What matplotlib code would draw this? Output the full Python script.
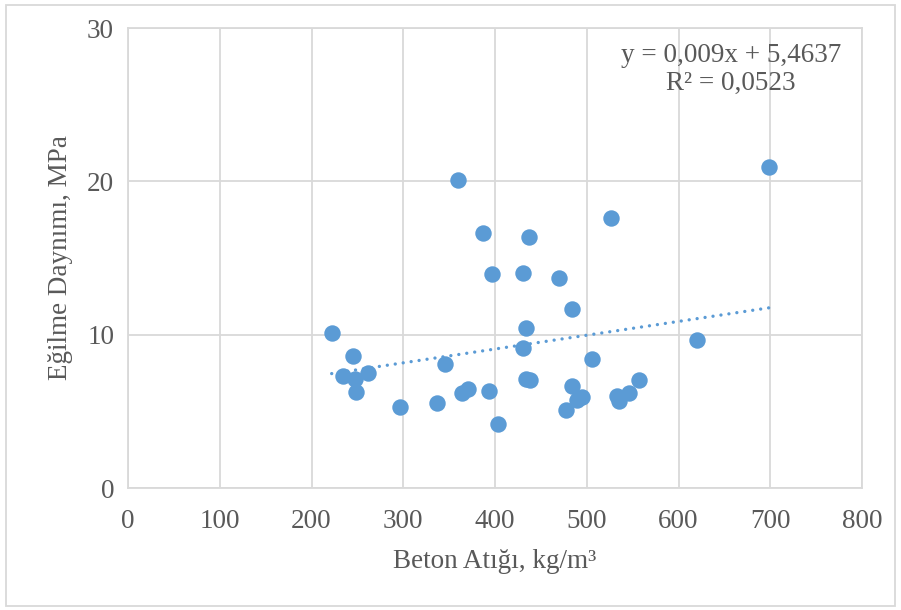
import matplotlib.pyplot as plt
import numpy as np
from matplotlib.patches import Rectangle

# Beton atigi (kg/m3) vs egilme dayanimi (MPa)
beton = [222, 245, 234, 247.5, 262, 249, 297, 345, 337, 359.5, 364.5, 371,
         387, 396.5, 393, 403, 437.5, 430, 434, 430, 434, 438.5, 470, 484,
         484, 477.5, 489, 494.5, 505.5, 526, 533.5, 535.5, 546, 557, 620, 699]
egilme = [10.13, 8.63, 7.33, 7.11, 7.5, 6.26, 5.28, 8.09, 5.54, 20.09, 6.2, 6.46,
          16.61, 13.98, 6.3, 4.15, 16.35, 14.04, 10.41, 9.13, 7.13, 7.02, 13.67, 11.7,
          6.65, 5.11, 5.76, 5.94, 8.41, 17.6, 5.98, 5.65, 6.17, 7.02, 9.63, 20.94]

slope = 0.009
intercept = 5.4637
r2 = 0.0523

xticks = [0, 100, 200, 300, 400, 500, 600, 700, 800]
yticks = [0, 10, 20, 30]

blue = '#5B9BD5'
grid_c = '#D9D9D9'
text_c = '#595959'
fs = 19.5

plt.rcParams['font.family'] = ['Liberation Serif', 'DejaVu Serif']

fig = plt.figure(figsize=(9.01, 6.10), dpi=100)
ax = fig.add_axes([128 / 901, 1 - 488 / 610, (862 - 128) / 901, (488 - 28) / 610])

ax.scatter(beton, egilme, s=140, color=blue, zorder=3, linewidths=0)

xs = np.array([min(beton), max(beton)])
ax.plot(xs, slope * xs + intercept, color=blue, linestyle=(0, (0.01, 2.4)),
        linewidth=2.4, dash_capstyle='round', solid_capstyle='round', zorder=2)

ax.set_xlim(0, 800)
ax.set_ylim(0, 30)
ax.set_xticks(xticks)
ax.set_yticks(yticks)
ax.grid(True, color=grid_c, linewidth=1.3, zorder=0)
ax.set_axisbelow(True)
for s in ax.spines.values():
    s.set_color(grid_c)
    s.set_linewidth(1.3)
ax.tick_params(length=0, labelsize=fs, labelcolor=text_c)
ax.tick_params(axis='x', pad=15)
ax.tick_params(axis='y', pad=10)

ax.set_xlabel('Beton Atığı, kg/m³', fontsize=fs, color=text_c, labelpad=11)
ax.set_ylabel('Eğilme Daynımı, MPa', fontsize=fs, color=text_c, labelpad=10)

ax.text(657, 27.3, 'y = 0,009x + 5,4637\nR² = 0,0523', fontsize=fs, color=text_c,
        ha='center', va='center', linespacing=1.2)

fig.patches.append(Rectangle((6 / 901, 4 / 610), 889 / 901, 601 / 610,
                             transform=fig.transFigure, fill=False,
                             edgecolor=grid_c, linewidth=1.3))

fig.savefig('out.png', dpi=100)
